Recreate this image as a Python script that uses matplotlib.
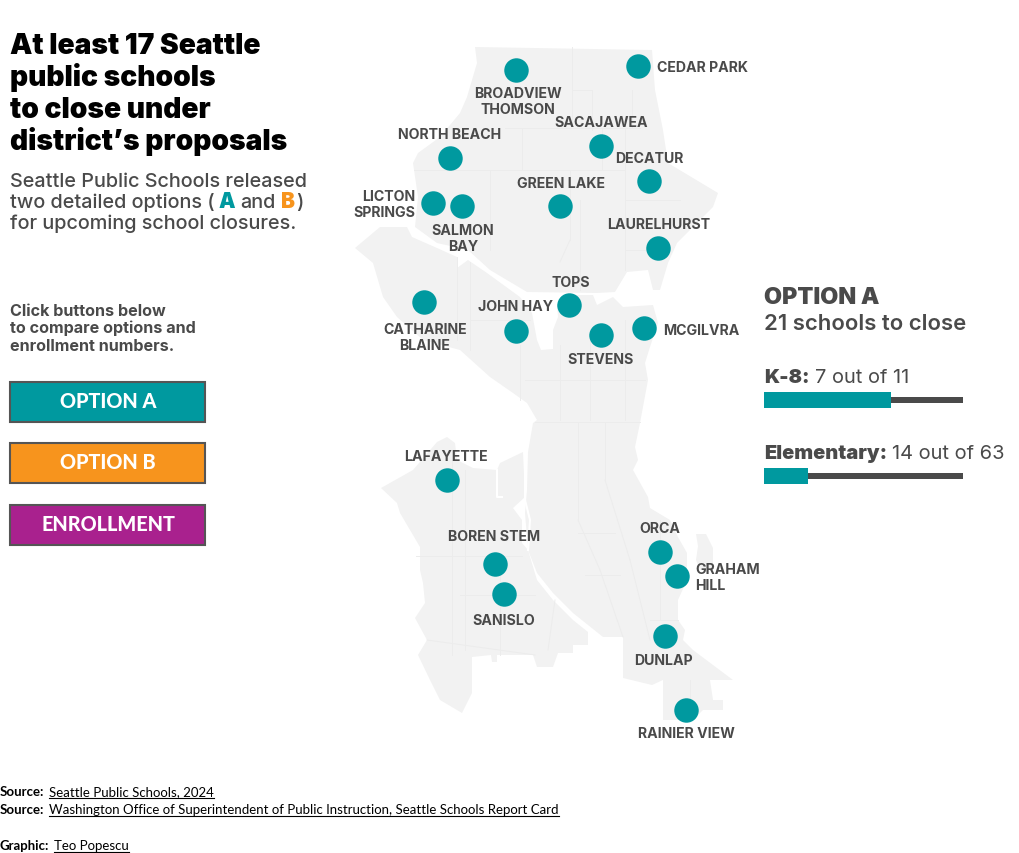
import matplotlib
matplotlib.use("Agg")
import matplotlib.pyplot as plt
from matplotlib.patches import Polygon, Rectangle

HEAD = ["Inter", "DejaVu Sans"]
FOOT = ["Lato", "DejaVu Sans"]
DARK = "#4a4a4a"
TEAL = "#00999f"
ORANGE = "#f7941d"
PURPLE = "#a9218e"
LAND = "#f2f2f2"
SEAM = "#ececec"

# schools, x/y in picture pixels
school_names = ["BROADVIEW", "CEDAR PARK", "SACAJAWEA", "NORTH BEACH", "DECATUR", "LICTON", "SALMON",
                "GREEN LAKE", "LAURELHURST", "TOPS", "CATHARINE", "JOHN HAY", "STEVENS", "MCGILVRA",
                "LAFAYETTE", "BOREN STEM", "SANISLO", "ORCA", "GRAHAM", "DUNLAP", "RAINIER VIEW"]
school_x = [516, 638, 601, 450, 649, 433, 462, 560, 658, 569, 424, 516, 601, 644,
            447, 495, 504, 660, 677, 665, 686]
school_y = [70, 66, 146, 158, 181, 203, 206, 206, 248, 305, 302, 331, 335, 328,
            480, 564, 594, 552, 576, 636, 710]

label_text = ["BROADVIEW\nTHOMSON", "CEDAR PARK", "SACAJAWEA", "NORTH BEACH", "DECATUR", "LICTON\nSPRINGS",
              "SALMON\nBAY", "GREEN LAKE", "LAURELHURST", "TOPS", "CATHARINE\nBLAINE", "JOHN HAY", "STEVENS",
              "MCGILVRA", "LAFAYETTE", "BOREN STEM", "SANISLO", "ORCA", "GRAHAM\nHILL", "DUNLAP", "RAINIER VIEW"]
label_x = [518, 657, 601, 450, 649, 415, 463, 561, 659, 571, 425, 478, 601, 663,
           446, 494, 504, 660, 695, 663, 686]
label_y = [101, 67, 122, 134, 158, 204, 238, 183, 224, 282, 337, 306, 359, 330,
           456, 536, 620, 528, 577, 660, 733]
label_ha = ["center", "left", "center", "center", "center", "right", "center", "center", "center", "center",
            "center", "left", "center", "left", "center", "center", "center", "center", "left", "center", "center"]

# map outlines
north_shape = [(475, 47), (652, 50), (655, 90), (663, 130), (668, 163), (693, 178), (718, 193), (713, 207),
               (690, 230), (677, 243), (668, 263), (660, 290), (653, 290), (648, 270), (627, 272), (615, 292),
               (597, 293), (527, 292), (490, 270), (468, 250), (437, 243), (415, 227), (418, 197), (413, 163),
               (418, 153), (440, 137), (460, 113), (467, 97), (477, 63)]
central_shape = [(355, 248), (380, 227), (407, 227), (412, 237), (437, 248), (457, 257), (457, 268), (468, 260),
                 (487, 273), (520, 297), (532, 313), (537, 340), (541, 350), (553, 349), (553, 330), (558, 317),
                 (557, 305), (567, 295), (593, 295), (597, 305), (613, 297),
                 (623, 307), (653, 305), (658, 323), (650, 347), (645, 363), (648, 380), (640, 423), (635, 447),
                 (638, 460), (633, 470), (648, 497), (650, 508), (670, 520), (678, 537), (687, 553), (687, 580),
                 (678, 600), (678, 620), (685, 630), (683, 640), (693, 650), (733, 680), (710, 680), (713, 700),
                 (723, 700), (723, 710), (703, 710), (693, 720), (663, 720), (663, 680), (652, 685), (623, 678),
                 (623, 637), (603, 637), (573, 613), (553, 593), (537, 573), (528, 550), (525, 513), (527, 490),
                 (528, 452), (533, 423), (537, 420), (527, 403), (513, 393), (490, 377), (460, 350), (423, 340),
                 (397, 317), (383, 297), (373, 263)]
west_shape = [(381, 488), (413, 470), (437, 442), (447, 437), (455, 443), (457, 460), (473, 468), (497, 470),
              (500, 463), (523, 452), (525, 497), (513, 508), (522, 520), (522, 543), (528, 550), (537, 580),
              (553, 600), (573, 620), (588, 632), (588, 645), (573, 645), (573, 653), (558, 653), (553, 667),
              (537, 667), (533, 655), (497, 655), (497, 662), (492, 662), (491, 655), (472, 657), (472, 693),
              (462, 713), (440, 700), (430, 680), (418, 655), (427, 640), (415, 618), (425, 603), (423, 583),
              (420, 570), (420, 547), (400, 513), (397, 503)]
vashon_shape = [(696, 534), (706, 534), (713, 548), (713, 568), (700, 570), (696, 560), (698, 546)]
harbor_cut = [[(497, 470), (497, 497), (502, 497)], [(525, 452), (525, 500), (530, 520), (528, 550)]]

seams = [
    [(572, 47), (572, 125)], [(572, 90), (592, 90)], [(592, 90), (592, 130)], [(505, 128), (640, 128)],
    [(522, 128), (522, 170)], [(522, 170), (490, 170)], [(490, 170), (490, 250)], [(632, 90), (632, 128)],
    [(625, 128), (625, 270)], [(602, 128), (602, 170)], [(522, 170), (625, 170)], [(570, 170), (570, 240)],
    [(570, 240), (560, 262)], [(580, 200), (580, 290)], [(625, 200), (680, 200)], [(625, 250), (670, 250)],
    [(414, 170), (490, 170)], [(457, 257), (457, 340)], [(470, 262), (470, 350)], [(470, 320), (530, 320)],
    [(520, 345), (520, 400)], [(560, 345), (560, 420)], [(590, 330), (590, 420)], [(625, 320), (625, 420)],
    [(525, 380), (645, 380)], [(535, 422), (640, 422)], [(578, 422), (578, 520)], [(578, 520), (600, 570)],
    [(600, 570), (623, 637)], [(605, 422), (605, 480)], [(605, 480), (630, 560)], [(630, 560), (650, 640)],
    [(578, 533), (615, 533)], [(585, 575), (620, 575)], [(660, 520), (660, 620)], [(650, 620), (678, 620)],
    [(416, 556), (522, 556)], [(465, 470), (465, 650)], [(452, 460), (452, 655)], [(500, 560), (500, 655)],
    [(460, 595), (535, 595)], [(555, 600), (548, 650)], [(427, 640), (535, 655)], [(690, 680), (690, 710)],
]

# panel numbers
bar_labels = ["K-8:", "Elementary:"]
bar_closed = [7, 14]
bar_total = [11, 63]
bar_y = [400, 476]
buttons = ["OPTION A", "OPTION B", "ENROLLMENT"]
button_colors = [TEAL, ORANGE, PURPLE]
button_top = [382, 443, 505]

fig = plt.figure(figsize=(10.2, 8.54), dpi=100)
ax = fig.add_axes([0, 0, 1, 1])
ax.set_xlim(0, 1020)
ax.set_ylim(853, -1)
ax.axis("off")
rend = fig.canvas.get_renderer()


def run_text(x, y, parts, size, family=HEAD, underline=(), gap=0.36):
    # parts are (string, weight, color), laid out one after the other
    for i, (s, weight, color) in enumerate(parts):
        t = ax.text(x, y, s, fontsize=size, fontweight=weight, color=color, family=family,
                    ha="left", va="baseline")
        bb = t.get_window_extent(rend)
        if i in underline:
            ax.plot([x, x + bb.width], [y + 2.5, y + 2.5], color="black", lw=0.8, zorder=3)
        x += bb.width + size * gap


for shape in (north_shape, central_shape, west_shape, vashon_shape):
    ax.add_patch(Polygon(shape, closed=True, fc=LAND, ec="none", zorder=1))
for seam in seams:
    ax.plot(*zip(*seam), color=SEAM, lw=0.7, zorder=1.2)
for cut in harbor_cut:
    ax.plot(*zip(*cut), color="white", lw=1.5, zorder=1.3)

ax.scatter(school_x, school_y, s=310, color=TEAL, linewidths=0, zorder=2)
for s, x, y, ha in zip(label_text, label_x, label_y, label_ha):
    ax.text(x, y, s, fontsize=10.2, fontweight="bold", color=DARK, family=HEAD, ha=ha, va="center",
            linespacing=1.15, zorder=3)

for i, line in enumerate(["At least 17 Seattle", "public schools", "to close under", "district’s proposals"]):
    ax.text(10, 53 + 32 * i, line, fontsize=20.3, fontweight="black", color="black", family=HEAD, va="baseline")

ax.text(10, 186, "Seattle Public Schools released", fontsize=14.3, fontweight="medium", color=DARK, family=HEAD)
ax.text(10, 207, "two detailed options (", fontsize=14.3, fontweight="medium", color=DARK, family=HEAD)
ax.text(219, 207, "A", fontsize=15, fontweight="black", color=TEAL, family=HEAD)
ax.text(240, 207, "and", fontsize=14.3, fontweight="medium", color=DARK, family=HEAD)
ax.text(281, 207, "B", fontsize=15, fontweight="black", color=ORANGE, family=HEAD)
ax.text(296, 207, ")", fontsize=14.3, fontweight="medium", color=DARK, family=HEAD)
ax.text(10, 228, "for upcoming school closures.", fontsize=14.3, fontweight="medium", color=DARK, family=HEAD)

for i, line in enumerate(["Click buttons below", "to compare options and", "enrollment numbers."]):
    ax.text(10, 315 + 17.5 * i, line, fontsize=11.6, fontweight="bold", color=DARK, family=HEAD)

for name, color, top in zip(buttons, button_colors, button_top):
    ax.add_patch(Rectangle((10, top), 195, 40, fc=color, ec="#555555", lw=1.5, zorder=2))
    ax.text(108, top + 19, name, fontsize=14.3, fontweight="black", color="white", family=["Lato", "DejaVu Sans"],
            ha="center", va="center", zorder=3)

ax.text(764, 303, "OPTION A", fontsize=16.8, fontweight="black", color=DARK, family=HEAD)
ax.text(764, 329, "21 schools to close", fontsize=15.9, fontweight="semibold", color=DARK, family=HEAD)
for label, closed, total, y in zip(bar_labels, bar_closed, bar_total, bar_y):
    run_text(764, y - 18, [(label, "black", DARK), (f"{closed} out of {total}", "normal", DARK)], 14.4)
    ax.add_patch(Rectangle((764, y - 3), 199, 6, fc=DARK, ec="none", zorder=2))
    ax.add_patch(Rectangle((764, y - 8), 199 * closed / total, 16, fc=TEAL, ec="none", zorder=3))

run_text(0, 795, [("Source:", "bold", "black"), ("Seattle Public Schools, 2024", "normal", "black")], 9.5, FOOT, (1,), 0.5)
run_text(0, 813, [("Source:", "bold", "black"),
                  ("Washington Office of Superintendent of Public Instruction, Seattle Schools Report Card", "normal", "black")],
         9.5, FOOT, (1,), 0.5)
run_text(0, 849, [("Graphic:", "bold", "black"), ("Teo Popescu", "normal", "black")], 9.5, FOOT, (1,), 0.5)

fig.savefig("out.png", dpi=100)
